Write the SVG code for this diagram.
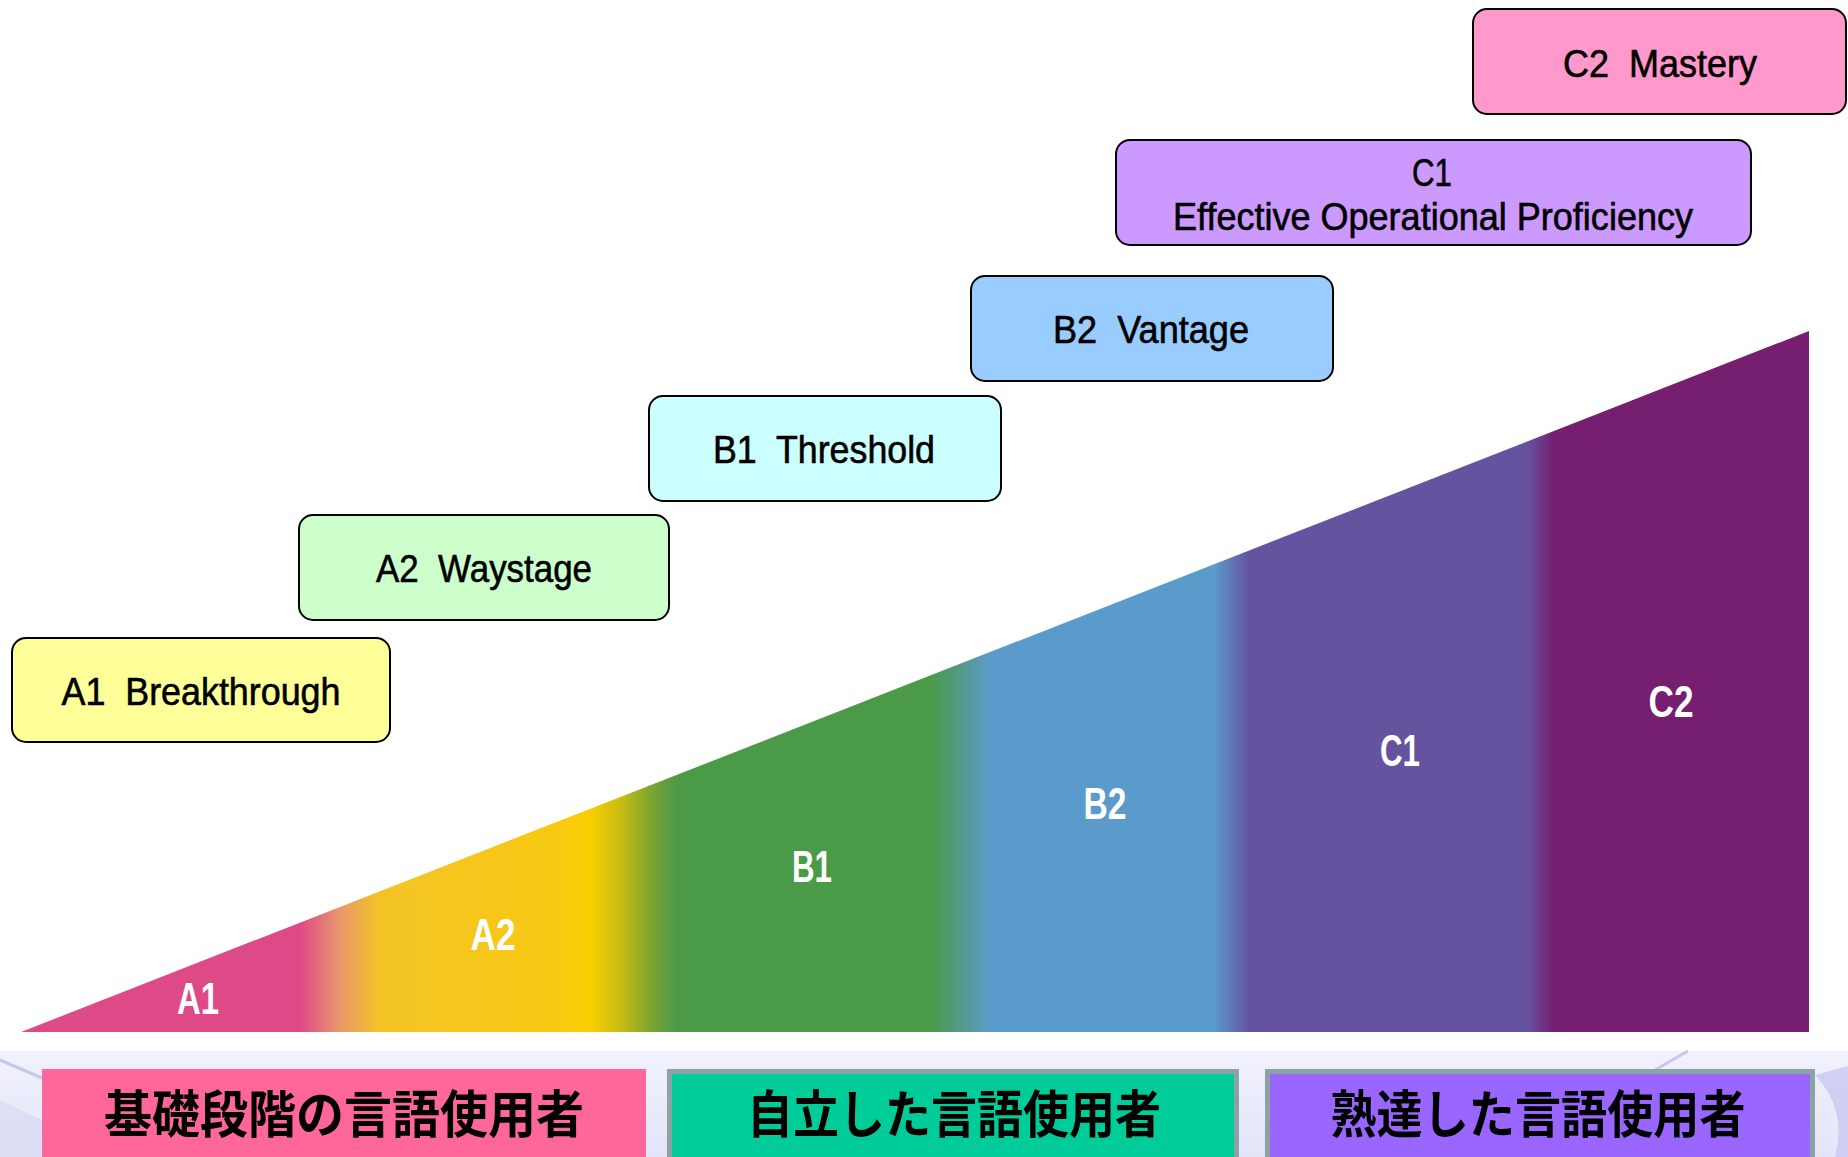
<svg xmlns="http://www.w3.org/2000/svg" width="1848" height="1157" viewBox="0 0 1848 1157">
  <style>
    .box { stroke: #000; stroke-width: 2; }
    .lvl { font-family: "Liberation Sans", Arial, sans-serif; font-size: 38px; fill: #000; stroke: #000; stroke-width: 0.6; text-anchor: middle; }
    .tri { font-family: "Liberation Sans", Arial, sans-serif; font-weight: bold; font-size: 45px; fill: #fff; text-anchor: middle; }
    .jp { font-family: "Noto Sans CJK JP", "Noto Sans CJK SC", sans-serif; font-weight: bold; font-size: 51px; fill: #000; text-anchor: middle; }
    .band { stroke: #8BA3A3; stroke-width: 5; }
  </style>
  <defs>
    <linearGradient id="rainbow" gradientUnits="userSpaceOnUse" x1="21" y1="0" x2="1809" y2="0">
      <stop offset="0" stop-color="#DE4A87"/>
      <stop offset="0.156" stop-color="#DE4A87"/>
      <stop offset="0.178" stop-color="#E9966C"/>
      <stop offset="0.200" stop-color="#F3C326"/>
      <stop offset="0.300" stop-color="#F8C912"/>
      <stop offset="0.318" stop-color="#FBCE00"/>
      <stop offset="0.335" stop-color="#C9BE12"/>
      <stop offset="0.352" stop-color="#7FA532"/>
      <stop offset="0.367" stop-color="#4A9A48"/>
      <stop offset="0.509" stop-color="#4A9A48"/>
      <stop offset="0.526" stop-color="#549A8A"/>
      <stop offset="0.542" stop-color="#5B9BCB"/>
      <stop offset="0.667" stop-color="#5B9BCB"/>
      <stop offset="0.687" stop-color="#6553A0"/>
      <stop offset="0.842" stop-color="#6553A0"/>
      <stop offset="0.858" stop-color="#761E70"/>
      <stop offset="1" stop-color="#761E70"/>
    </linearGradient>
    <linearGradient id="bandbg" x1="0" y1="0" x2="0" y2="1">
      <stop offset="0" stop-color="#F1F2FC"/>
      <stop offset="1" stop-color="#E3E4F8"/>
    </linearGradient>
  </defs>

  <rect x="0" y="0" width="1848" height="1157" fill="#fff"/>

  <!-- rainbow wedge -->
  <g id="wedge">
    <polygon points="21,1032 1809,331 1809,1032" fill="url(#rainbow)"/>
    <text class="tri" x="198" y="1014" textLength="42" lengthAdjust="spacingAndGlyphs">A1</text>
    <text class="tri" x="493" y="950" textLength="45" lengthAdjust="spacingAndGlyphs">A2</text>
    <text class="tri" x="812" y="882" textLength="40" lengthAdjust="spacingAndGlyphs">B1</text>
    <text class="tri" x="1105" y="819" textLength="43" lengthAdjust="spacingAndGlyphs">B2</text>
    <text class="tri" x="1400" y="766" textLength="40" lengthAdjust="spacingAndGlyphs">C1</text>
    <text class="tri" x="1671" y="717" textLength="45" lengthAdjust="spacingAndGlyphs">C2</text>
  </g>

  <!-- level boxes -->
  <g id="box-a1">
    <rect class="box" x="12" y="638" width="378" height="104" rx="14" fill="#FFFF99"/>
    <text class="lvl" x="201" y="705" textLength="279" lengthAdjust="spacingAndGlyphs" xml:space="preserve">A1  Breakthrough</text>
  </g>
  <g id="box-a2">
    <rect class="box" x="299" y="515" width="370" height="105" rx="14" fill="#CCFFCC"/>
    <text class="lvl" x="484" y="582" textLength="216" lengthAdjust="spacingAndGlyphs" xml:space="preserve">A2  Waystage</text>
  </g>
  <g id="box-b1">
    <rect class="box" x="649" y="396" width="352" height="105" rx="14" fill="#CCFFFF"/>
    <text class="lvl" x="824" y="463" textLength="222" lengthAdjust="spacingAndGlyphs" xml:space="preserve">B1  Threshold</text>
  </g>
  <g id="box-b2">
    <rect class="box" x="971" y="276" width="362" height="105" rx="14" fill="#99CCFF"/>
    <text class="lvl" x="1151" y="343" textLength="196" lengthAdjust="spacingAndGlyphs" xml:space="preserve">B2  Vantage</text>
  </g>
  <g id="box-c1">
    <rect class="box" x="1116" y="140" width="635" height="105" rx="14" fill="#CC99FF"/>
    <text class="lvl" x="1432" y="186" textLength="40" lengthAdjust="spacingAndGlyphs">C1</text>
    <text class="lvl" x="1433" y="230" textLength="520" lengthAdjust="spacingAndGlyphs">Effective Operational Proficiency</text>
  </g>
  <g id="box-c2">
    <rect class="box" x="1473" y="9" width="373" height="105" rx="14" fill="#FF99CC"/>
    <text class="lvl" x="1660" y="77" textLength="194" lengthAdjust="spacingAndGlyphs" xml:space="preserve">C2  Mastery</text>
  </g>

  <!-- bottom band -->
  <g id="band-bg">
    <rect x="0" y="1051" width="1848" height="106" fill="url(#bandbg)"/>
    <path d="M0,1100 L42,1120 L42,1157 L0,1157 Z" fill="#D8D8F4" opacity="0.7"/>
    <line x1="0" y1="1060" x2="42" y2="1078" stroke="#C4C8EE" stroke-width="3"/>
    <line x1="1688" y1="1051" x2="1655" y2="1070" stroke="#C4C8EE" stroke-width="3"/>
    <path d="M1815,1075 Q1848,1110 1835,1157 L1848,1157 L1848,1066 Z" fill="#C8C8F2" opacity="0.8"/>
  </g>
  <g id="user-basic">
    <rect x="42" y="1069" width="604" height="95" fill="#FF6699"/>
    <text class="jp" x="344" y="1133" textLength="480" lengthAdjust="spacingAndGlyphs">基礎段階の言語使用者</text>
  </g>
  <g id="user-independent">
    <rect class="band" x="669.5" y="1071.5" width="567" height="95" fill="#00CC99"/>
    <text class="jp" x="954" y="1133" textLength="414" lengthAdjust="spacingAndGlyphs">自立した言語使用者</text>
  </g>
  <g id="user-proficient">
    <rect class="band" x="1267.5" y="1071.5" width="545" height="95" fill="#9966FF"/>
    <text class="jp" x="1538" y="1133" textLength="415" lengthAdjust="spacingAndGlyphs">熟達した言語使用者</text>
  </g>
  <g id="connectors"/>
</svg>
